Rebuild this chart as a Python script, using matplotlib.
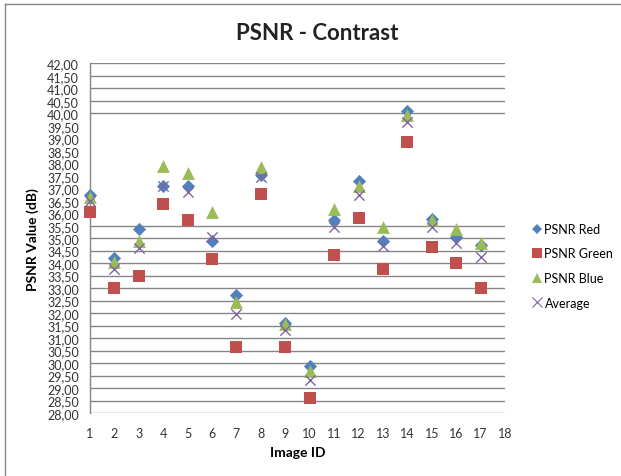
import matplotlib
matplotlib.use("Agg")
import matplotlib.pyplot as plt
from matplotlib.lines import Line2D
import numpy as np

image_ids = list(range(1, 18))
psnr_red = [36.73, 34.19, 35.38, 37.08, 37.08, 34.90, 32.74, 37.53, 31.60, 29.87,
            35.74, 37.28, 34.90, 40.08, 35.76, 35.05, 34.72]
psnr_green = [36.06, 33.00, 33.50, 36.37, 35.74, 34.17, 30.63, 36.77, 30.63, 28.59,
              34.34, 35.79, 33.77, 38.86, 34.63, 33.99, 33.00]
psnr_blue = [36.64, 34.03, 34.90, 37.88, 37.61, 36.06, 32.46, 37.84, 31.56, 29.70,
             36.17, 37.08, 35.43, 39.94, 35.74, 35.35, 34.79]
average = [36.50, 33.77, 34.59, 37.10, 36.84, 35.03, 31.96, 37.44, 31.32, 29.33,
           35.43, 36.73, 34.70, 39.64, 35.43, 34.79, 34.23]

y_ticks = np.arange(28.0, 42.01, 0.5)
y_tick_labels = [f"{v:.2f}".replace(".", ",") for v in y_ticks]
x_ticks = list(range(1, 19))
legend_labels = ["PSNR Red", "PSNR Green", "PSNR Blue", "Average"]

FONT = ["Lato", "DejaVu Sans"]
plt.rcParams["font.family"] = FONT

fig = plt.figure(figsize=(6.21, 4.77), dpi=100)
ax = fig.add_axes([90 / 621, 1 - 414 / 477, 415 / 621, 349.7 / 477])

grid_col = "#868686"
for v in y_ticks:
    if 35.75 < v < 39.75:
        continue
    ax.axhline(v, color=grid_col, lw=1.0, zorder=1)

blue = "#4F81BD"
red = "#C0504D"
green = "#9BBB59"
purple = "#8064A2"

ax.scatter(image_ids, psnr_red, marker="D", s=45, color=blue, zorder=3, clip_on=False, linewidths=0)
ax.scatter(image_ids, psnr_green, marker="s", s=80, color=red, zorder=3, clip_on=False, linewidths=0)
ax.scatter(image_ids, psnr_blue, marker="^", s=85, color=green, zorder=4, clip_on=False, linewidths=0)
ax.scatter(image_ids, average, marker="x", s=55, color=purple, zorder=5, clip_on=False, linewidths=1.0)

ax.set_xlim(1, 18)
ax.set_ylim(28, 42)
ax.set_xticks(x_ticks)
ax.set_xticklabels([str(t) for t in x_ticks], fontsize=9, color="#333333")
ax.set_yticks(y_ticks)
ax.set_yticklabels(y_tick_labels, fontsize=9, color="#333333")
ax.tick_params(axis="both", length=0)
ax.tick_params(axis="x", pad=10)
ax.tick_params(axis="y", pad=8)
for s in ["top", "right", "bottom"]:
    ax.spines[s].set_visible(False)
ax.spines["left"].set_color(grid_col)
ax.spines["left"].set_linewidth(1.0)

ax.set_xlabel("Image ID", fontsize=10, fontweight="bold", labelpad=5)
ax.set_ylabel("PSNR Value (dB)", fontsize=10, fontweight="bold", labelpad=6)
fig.text(317 / 621, 1 - 33 / 477, "PSNR - Contrast", fontsize=16, fontweight="bold",
         ha="center", va="center", color="#222222")

handles = [
    Line2D([], [], marker="D", ls="", color=blue, markersize=5, markeredgewidth=0),
    Line2D([], [], marker="s", ls="", color=red, markersize=7.5, markeredgewidth=0),
    Line2D([], [], marker="^", ls="", color=green, markersize=7.5, markeredgewidth=0),
    Line2D([], [], marker="x", ls="", color=purple, markersize=7, markeredgewidth=0.8),
]
fig.legend(handles, legend_labels, loc="upper left", bbox_to_anchor=(532 / 621, 1 - 224 / 477),
           frameon=False, fontsize=9, handlelength=0.8, handletextpad=0.2, labelspacing=1.0,
           borderaxespad=0, borderpad=0)

fig.add_artist(Line2D([5 / 621, 5 / 621], [0, 1 - 5 / 477], transform=fig.transFigure, color=grid_col, lw=1))
fig.add_artist(Line2D([5 / 621, 1], [1 - 5 / 477, 1 - 5 / 477], transform=fig.transFigure, color=grid_col, lw=1))

fig.savefig("out.png", dpi=100)
